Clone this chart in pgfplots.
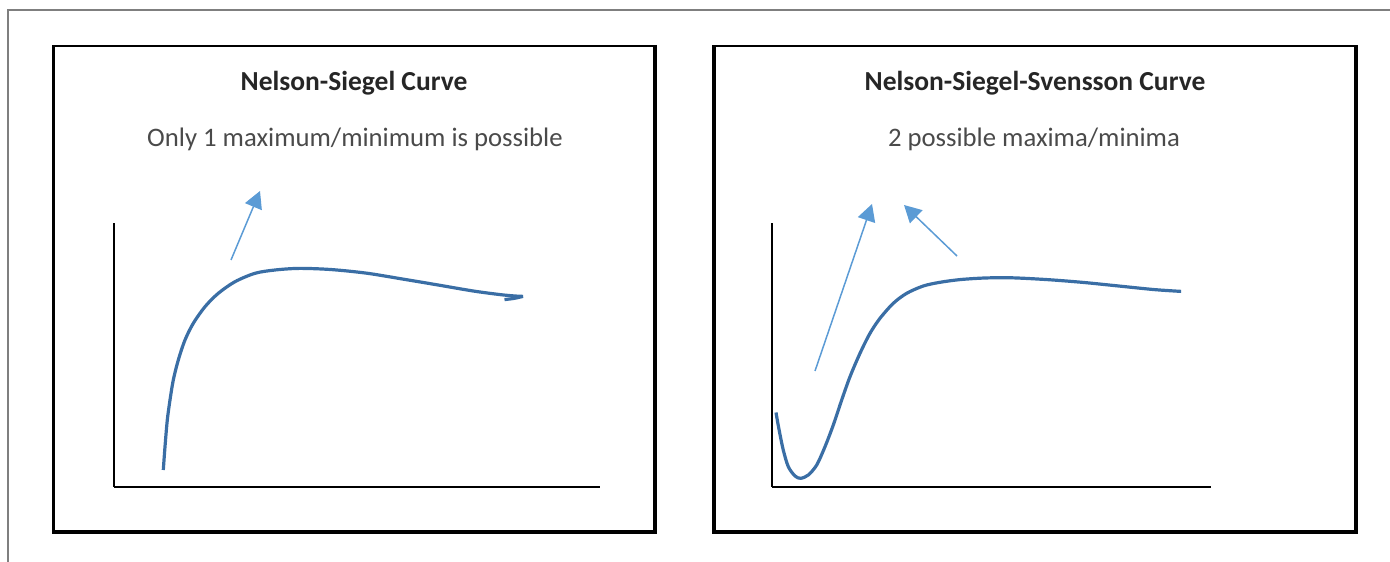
\documentclass[border=0pt]{standalone}
\usepackage{pgfplots}
\pgfplotsset{compat=1.18}
\usepackage{fontspec}
\setmainfont{Carlito}
\usetikzlibrary{arrows.meta}
\definecolor{curveblue}{HTML}{3A6EA5}
\definecolor{arrowblue}{HTML}{5B9BD5}
\definecolor{titlegray}{HTML}{262626}
\definecolor{subgray}{HTML}{4A4A4A}
\definecolor{framegray}{HTML}{7F7F7F}
\begin{document}
\begin{tikzpicture}[x=1pt,y=1pt]
\useasboundingbox (0,0) rectangle (1390,562);
% outer frame
\draw[framegray, line width=1.6pt] (8.2,0) -- (8.2,552) -- (1390,552);
% left panel frame
\draw[black, line width=2.5pt] (53.3,28.2) -- (53.3,516) -- (657.3,516);
\draw[black, line width=4pt] (655.3,517.2) -- (655.3,30.2) -- (52,30.2);
% right panel frame
\draw[black, line width=4pt] (714.3,516) -- (714.3,30.2) -- (1355.5,30.2) -- (1355.5,517.2);
\draw[black, line width=2.5pt] (712.3,516) -- (1357.5,516);
% titles
\node[font=\fontsize{27.5}{32}\selectfont\bfseries, text=titlegray, anchor=base] at (354,471.5) {Nelson-Siegel Curve};
\node[font=\fontsize{26.7}{31}\selectfont, text=subgray, anchor=base] at (355,415) {Only 1 maximum/minimum is possible};
\node[font=\fontsize{27.5}{32}\selectfont\bfseries, text=titlegray, anchor=base] at (1035,471.5) {Nelson-Siegel-Svensson Curve};
\node[font=\fontsize{26.7}{31}\selectfont, text=subgray, anchor=base] at (1034,415) {2 possible maxima/minima};

% left axis
\begin{axis}[at={(114pt,75pt)}, anchor=south west, scale only axis,
  width=486pt, height=264pt, xmin=114, xmax=600, ymin=75, ymax=339,
  axis x line=bottom, axis y line=left, axis line style={-, line width=2pt, black},
  ticks=none, clip=false]
\addplot[curveblue, line width=3.2pt, smooth] coordinates {
(163.3,92) (165,115.3) (167.3,142) (170,162) (173.3,182) (178.3,202)
(185,222) (193.3,238.7) (205,255.3) (218.3,268.7) (235,280.3) (255,288.7)
(275,292) (299.1,293.6) (330.4,292.5) (366.1,288.9) (401.8,283.1)
(437.5,277.1) (473.2,271.0) (500,267.4) (515,266.0) (523,265.6)};
\addplot[curveblue, line width=3.2pt, smooth] coordinates {
(523,265.6) (514,263.6) (504.5,262.4)};
\draw[arrowblue, line width=1.5pt, -{Triangle[length=17pt,width=18pt]}] (231,302) -- (260,371);
\end{axis}

% right axis
\begin{axis}[at={(772pt,75pt)}, anchor=south west, scale only axis,
  width=439pt, height=264pt, xmin=772, xmax=1211, ymin=75, ymax=339,
  axis x line=bottom, axis y line=left, axis line style={-, line width=2pt, black},
  ticks=none, clip=false]
\addplot[curveblue, line width=3.2pt, smooth] coordinates {
(776,149.5) (778,138) (780.5,125) (783.5,111) (788.3,95.3) (795,86) (800.7,83.7)
(808.3,87) (816.7,97) (825,115.3) (833.3,137) (841.7,162) (850,185.3)
(860,208.7) (870,228.7) (880,243.7) (893.3,258.7) (906.7,268.7) (923.3,276)
(940,279.7) (960,282.4) (985,284) (1011.4,284.2) (1047.1,282.4) (1082.9,279.6)
(1118.6,276.0) (1154.3,272.4) (1181.1,270.6)};
\draw[arrowblue, line width=1.5pt, -{Triangle[length=17pt,width=18pt]}] (815,191) -- (872,358);
\draw[arrowblue, line width=1.5pt, -{Triangle[length=17pt,width=18pt]}] (957,306) -- (904,357);
\end{axis}
\end{tikzpicture}
\end{document}
